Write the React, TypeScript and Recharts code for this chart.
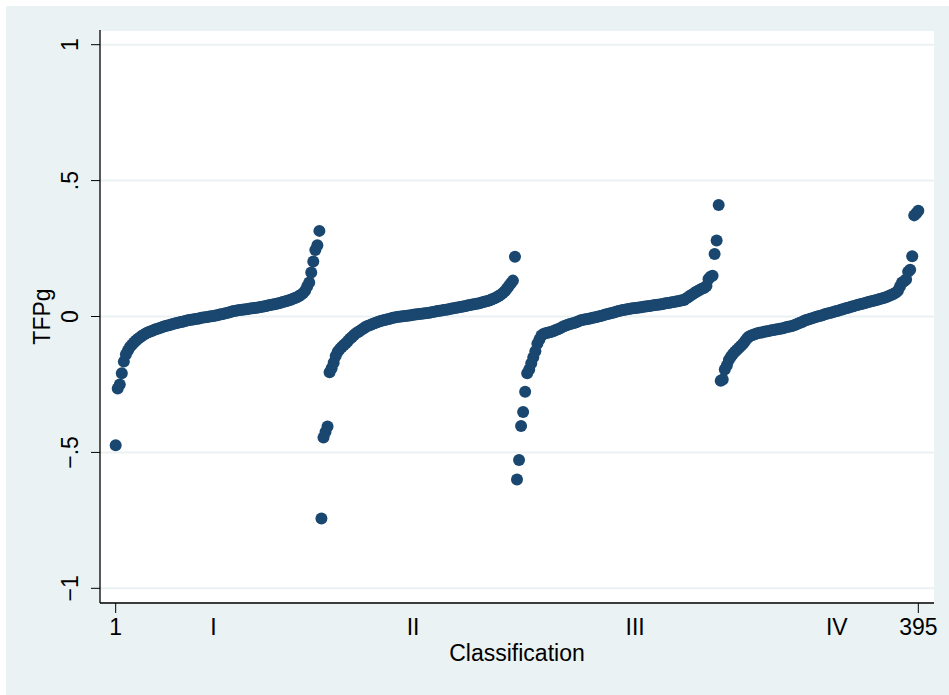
import { ScatterChart, Scatter, XAxis, YAxis, CartesianGrid } from "recharts";

// TFPg sorted within each classification group
const groupI = [
  -0.474, -0.265, -0.25, -0.209, -0.166, -0.14, -0.125, -0.112, -0.104, -0.096,
  -0.088, -0.082, -0.076, -0.071, -0.066, -0.062, -0.058, -0.055, -0.052, -0.049,
  -0.046, -0.044, -0.041, -0.039, -0.036, -0.034, -0.032, -0.03, -0.028, -0.026,
  -0.024, -0.022, -0.02, -0.019, -0.017, -0.015, -0.013, -0.012, -0.011, -0.009,
  -0.008, -0.007, -0.005, -0.004, -0.003, -0.002, 0.0, 0.001, 0.002, 0.004,
  0.005, 0.007, 0.008, 0.01, 0.012, 0.014, 0.016, 0.018, 0.02, 0.021,
  0.023, 0.024, 0.025, 0.026, 0.027, 0.028, 0.029, 0.03, 0.031, 0.032,
  0.033, 0.035, 0.036, 0.038, 0.039, 0.041, 0.042, 0.044, 0.045, 0.047,
  0.049, 0.051, 0.053, 0.055, 0.057, 0.06, 0.062, 0.065, 0.068, 0.071,
  0.075, 0.08, 0.086, 0.095, 0.11, 0.125, 0.162, 0.202, 0.245, 0.262,
  0.315,
];

const groupII = [
  -0.743, -0.445, -0.425, -0.405, -0.205, -0.19, -0.17, -0.145, -0.13, -0.12,
  -0.112, -0.105, -0.098, -0.09, -0.082, -0.075, -0.068, -0.062, -0.057, -0.052,
  -0.047, -0.042, -0.037, -0.034, -0.031, -0.028, -0.025, -0.022, -0.019, -0.017,
  -0.015, -0.013, -0.011, -0.009, -0.007, -0.005, -0.004, -0.002, -0.001, 0.0,
  0.001, 0.002, 0.003, 0.004, 0.005, 0.006, 0.007, 0.008, 0.009, 0.01,
  0.011, 0.012, 0.013, 0.014, 0.016, 0.017, 0.018, 0.02, 0.021, 0.022,
  0.024, 0.025, 0.026, 0.028, 0.029, 0.03, 0.032, 0.033, 0.035, 0.036,
  0.038, 0.039, 0.041, 0.042, 0.044, 0.045, 0.047, 0.048, 0.05, 0.052,
  0.054, 0.056, 0.058, 0.061, 0.064, 0.067, 0.071, 0.075, 0.08, 0.086,
  0.093, 0.102, 0.112, 0.122, 0.132, 0.22,
];

const groupIII = [
  -0.6, -0.528, -0.403, -0.351, -0.277, -0.209, -0.195, -0.172, -0.15, -0.128,
  -0.1, -0.085, -0.07, -0.064, -0.062, -0.06, -0.058, -0.056, -0.053, -0.05,
  -0.047, -0.044, -0.04, -0.036, -0.033, -0.03, -0.028, -0.026, -0.024, -0.021,
  -0.018, -0.015, -0.013, -0.011, -0.01, -0.008, -0.007, -0.005, -0.004, -0.002,
  0.0, 0.002, 0.004, 0.006, 0.008, 0.01, 0.012, 0.014, 0.016, 0.018,
  0.02, 0.022, 0.024, 0.025, 0.027, 0.028, 0.029, 0.03, 0.031, 0.032,
  0.033, 0.034, 0.036, 0.037, 0.038, 0.039, 0.04, 0.041, 0.042, 0.043,
  0.044, 0.045, 0.047, 0.049, 0.05, 0.051, 0.052, 0.053, 0.055, 0.056,
  0.058, 0.06, 0.061, 0.066, 0.071, 0.076, 0.081, 0.086, 0.091, 0.095,
  0.099, 0.103, 0.106, 0.112, 0.138, 0.146, 0.15, 0.23, 0.28, 0.41,
];

const groupIV = [
  -0.236, -0.232, -0.195, -0.18, -0.16, -0.148, -0.138, -0.13, -0.122, -0.115,
  -0.108, -0.1, -0.09, -0.08, -0.074, -0.07, -0.067, -0.064, -0.062, -0.06,
  -0.059, -0.057, -0.055, -0.054, -0.052, -0.051, -0.05, -0.048, -0.047, -0.045,
  -0.044, -0.042, -0.04, -0.038, -0.037, -0.035, -0.032, -0.029, -0.026, -0.023,
  -0.02, -0.016, -0.013, -0.011, -0.008, -0.006, -0.004, -0.001, 0.001, 0.003,
  0.005, 0.008, 0.01, 0.012, 0.014, 0.016, 0.018, 0.02, 0.022, 0.025,
  0.027, 0.029, 0.031, 0.033, 0.036, 0.038, 0.04, 0.042, 0.044, 0.046,
  0.048, 0.05, 0.052, 0.054, 0.056, 0.058, 0.06, 0.062, 0.064, 0.066,
  0.068, 0.071, 0.074, 0.077, 0.08, 0.084, 0.088, 0.095, 0.11, 0.125,
  0.13, 0.136, 0.165, 0.172, 0.222, 0.372, 0.38, 0.389,
];

const xTicks = [1, 49, 147, 256, 355, 395];
const xTickLabels = ["1", "I", "II", "III", "IV", "395"];
const yTicks = [-1, -0.5, 0, 0.5, 1];
const yTickLabels = ["\u22121", "\u2212.5", "0", ".5", "1"];

const data = [...groupI, ...groupII, ...groupIII, ...groupIV].map((tfpg, i) => ({
  rank: i + 1,
  tfpg,
}));

const FONT = "'Liberation Sans', Arial, Helvetica, sans-serif";
const NAVY = "#1a476f";
const BG = "#eaf2f3";

const XTick = (props: any) => {
  const { x, y, payload } = props;
  const idx = xTicks.indexOf(payload.value);
  const numeric = idx === 0 || idx === xTicks.length - 1;
  return (
    <g>
      {numeric && <line x1={x} x2={x} y1={y - 10} y2={y} stroke="#000" strokeWidth={1} />}
      <text x={x} y={y + 22} textAnchor="middle" fontSize={23} fontFamily={FONT} fill="#000">
        {xTickLabels[idx]}
      </text>
    </g>
  );
};

const YTick = (props: any) => {
  const { x, y, payload } = props;
  const idx = yTicks.indexOf(payload.value);
  const bx = x - 13;
  return (
    <text
      x={bx}
      y={y}
      transform={`rotate(-90, ${bx}, ${y})`}
      textAnchor="middle"
      fontSize={23}
      fontFamily={FONT}
      fill="#000"
    >
      {yTickLabels[idx]}
    </text>
  );
};

export default function App() {
  return (
    <div style={{ position: "absolute", left: 0, top: 0, width: 949, height: 695, background: "#fff" }}>
      <div style={{ position: "absolute", left: 6, top: 6, right: 0, bottom: 0, background: BG }} />
      <div style={{ position: "absolute", left: 0, top: 0 }}>
        <ScatterChart width={949} height={695} margin={{ top: 30, right: 15, bottom: 0, left: 0 }}>
          <CartesianGrid vertical={false} fill="#ffffff" stroke={BG} strokeWidth={2} />
          <XAxis
            type="number"
            dataKey="rank"
            domain={[-6.7, 402.7]}
            ticks={xTicks}
            interval={0}
            height={92}
            tickLine={false}
            tickSize={10}
            tickMargin={0}
            axisLine={{ stroke: "#000", strokeWidth: 1.3 }}
            tick={<XTick />}
            label={({ viewBox }: any) => (
              <text
                x={viewBox.x + viewBox.width / 2}
                y={viewBox.y + 58}
                textAnchor="middle"
                fontSize={23}
                fontFamily={FONT}
                fill="#000"
              >
                Classification
              </text>
            )}
          />
          <YAxis
            type="number"
            dataKey="tfpg"
            domain={[-1.054, 1.054]}
            allowDataOverflow
            ticks={yTicks}
            interval={0}
            width={100}
            tickSize={9}
            tickMargin={0}
            tickLine={{ stroke: "#000", strokeWidth: 1 }}
            axisLine={{ stroke: "#000", strokeWidth: 1.3 }}
            tick={<YTick />}
            label={({ viewBox }: any) => {
              const cx = viewBox.x + 50;
              const cy = viewBox.y + viewBox.height / 2;
              return (
                <text
                  x={cx}
                  y={cy}
                  transform={`rotate(-90, ${cx}, ${cy})`}
                  textAnchor="middle"
                  fontSize={23}
                  fontFamily={FONT}
                  fill="#000"
                >
                  TFPg
                </text>
              );
            }}
          />
          <Scatter
            data={data}
            isAnimationActive={false}
            shape={(p: any) => <circle cx={p.cx} cy={p.cy} r={6} fill={NAVY} />}
          />
        </ScatterChart>
      </div>
    </div>
  );
}
